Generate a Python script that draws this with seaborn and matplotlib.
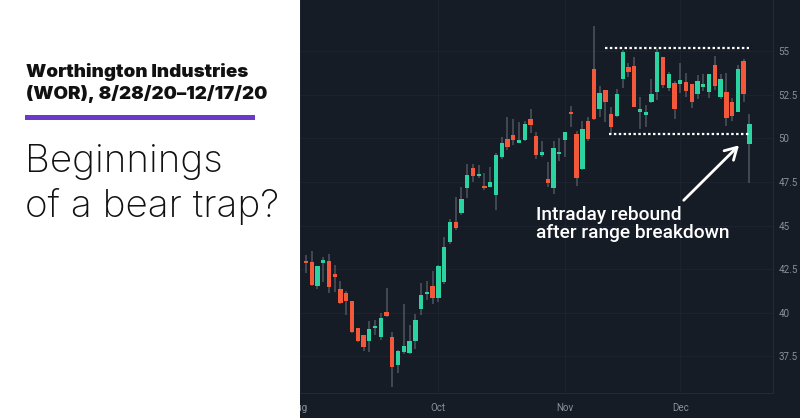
import numpy as np
import pandas as pd
import matplotlib
matplotlib.use("Agg")
import matplotlib.pyplot as plt
from matplotlib.patches import Rectangle
import seaborn as sns

# Daily OHLC for WOR (8/28/20 - 12/17/20)
opens = [42.95, 42.91, 41.54, 42.84, 42.99, 42.22, 41.38, 41.12, 40.68, 39.11,
         38.71, 38.40, 39.13, 38.60, 40.05, 38.60, 37.03, 37.77, 37.71, 38.37,
         40.22, 41.08, 41.54, 40.83, 41.77, 44.07, 45.19, 45.72, 47.17, 48.30,
         47.85, 47.27, 47.19, 46.75, 48.95, 49.94, 50.19, 49.75, 49.89, 51.09,
         50.13, 49.06, 47.65, 47.13, 49.08, 49.90, 51.52, 50.26, 48.26, 50.99,
         53.95, 51.70, 52.75, 51.38, 51.30, 53.40, 54.09, 54.14, 51.52, 51.35,
         52.08, 52.67, 54.64, 52.88, 53.15, 53.11, 53.23, 53.09, 52.56, 52.96,
         52.65, 54.22, 52.37, 52.65, 52.08, 51.52, 54.45, 49.66]
highs = [43.31, 43.54, 42.70, 43.18, 43.35, 42.74, 41.84, 41.25, 40.70, 39.15,
         38.75, 39.53, 39.59, 39.99, 41.44, 38.90, 37.85, 40.50, 39.30, 39.93,
         41.73, 41.84, 42.38, 42.76, 44.33, 45.38, 46.62, 47.23, 48.51, 48.51,
         48.45, 47.99, 48.34, 49.14, 50.06, 51.20, 51.11, 50.92, 50.97, 51.68,
         50.34, 49.85, 48.64, 49.85, 50.03, 50.36, 51.85, 50.40, 51.01, 51.20,
         56.44, 53.00, 52.75, 51.81, 52.81, 55.06, 54.30, 54.64, 52.37, 51.89,
         53.38, 55.10, 54.64, 53.82, 53.30, 54.30, 53.72, 53.09, 53.63, 53.68,
         53.70, 54.72, 53.67, 53.76, 52.29, 54.18, 54.56, 51.38]
lows = [42.30, 41.55, 41.38, 41.77, 41.15, 41.21, 40.50, 39.86, 38.83, 38.35,
        37.79, 37.77, 38.73, 38.44, 39.74, 35.77, 36.57, 37.63, 37.63, 37.94,
        39.87, 40.73, 40.50, 40.64, 41.63, 43.95, 44.76, 45.62, 46.60, 47.48,
        47.71, 47.04, 47.19, 45.89, 48.81, 49.33, 49.63, 49.73, 49.86, 50.32,
        48.81, 48.91, 47.19, 46.81, 48.72, 48.95, 50.63, 47.28, 48.20, 49.85,
        51.03, 51.22, 50.95, 50.29, 51.20, 52.90, 53.50, 51.78, 50.55, 50.66,
        52.01, 52.19, 52.87, 52.73, 51.13, 52.58, 52.38, 51.75, 52.24, 52.71,
        52.33, 52.77, 52.25, 50.72, 51.01, 51.50, 52.10, 47.46]
closes = [42.84, 41.58, 42.68, 43.01, 41.46, 42.05, 40.58, 40.69, 38.92, 38.40,
          38.02, 39.05, 39.26, 39.70, 39.80, 36.91, 37.81, 38.08, 38.38, 39.59,
          41.02, 41.21, 40.83, 42.67, 43.77, 45.19, 44.86, 46.52, 47.88, 47.86,
          47.96, 47.13, 47.51, 49.04, 49.75, 49.50, 49.90, 49.89, 50.82, 50.76,
          49.04, 49.21, 47.42, 49.44, 49.23, 50.36, 51.39, 47.71, 50.53, 49.94,
          51.09, 52.60, 52.08, 50.66, 52.54, 54.93, 53.78, 51.81, 51.66, 51.49,
          52.54, 54.93, 53.05, 53.67, 51.70, 53.32, 52.69, 52.08, 53.28, 53.09,
          53.70, 53.01, 53.42, 51.15, 51.30, 53.95, 52.52, 50.80]

# trading days (Labor Day and Thanksgiving closed)
holidays = ["2020-09-07", "2020-11-26"]
dates = pd.bdate_range("2020-08-28", "2020-12-17")
dates = dates[~dates.isin(pd.to_datetime(holidays))]

month_labels = ["Aug", "Oct", "Nov", "Dec"]
month_starts = ["2020-10-01", "2020-11-02", "2020-12-01"]
price_ticks = [37.5, 40, 42.5, 45, 47.5, 50, 52.5, 55]

# trading range drawn on the chart
range_top = 55.2
range_bottom = 50.27
annotation = "Intraday rebound\nafter range breakdown"

BG = "#151c26"
GREEN = "#2ad3a0"
RED = "#f4583a"
WICK = "#4f555e"
TICK = "#8b9098"

sns.set_theme(style="dark", rc={"axes.facecolor": BG, "figure.facecolor": BG})
plt.rcParams["font.family"] = ["Roboto", "DejaVu Sans"]

df = pd.DataFrame({"date": dates, "open": opens, "high": highs,
                   "low": lows, "close": closes})
df["idx"] = np.arange(len(df))
up = df["close"] >= df["open"]
body_lo = df[["open", "close"]].min(axis=1)
body_h = (df["close"] - df["open"]).abs().clip(lower=0.12)

fig = plt.figure(figsize=(8, 4.18), dpi=100)
ax = fig.add_axes([280 / 800, 25 / 418, 493 / 800, 393 / 418])

ax.vlines(df["idx"], df["low"], df["high"], color=WICK, lw=1.1, zorder=2)
ax.bar(df["idx"], body_h, bottom=body_lo, width=0.75,
       color=np.where(up, GREEN, RED), zorder=3, linewidth=0)

ax.set_xlim(-4.5, 81.1)
ax.set_ylim(35.4, 57.93)

# month ticks at first trading day; Aug label sits just off the left edge
pos = {d: i for i, d in enumerate(df["date"].dt.strftime("%Y-%m-%d"))}
xt = [-1.1] + [pos[m] for m in month_starts]
ax.set_xticks(xt)
ax.set_xticklabels(month_labels)
ax.set_yticks(price_ticks)
ax.set_yticklabels([f"{v:g}" for v in price_ticks])
ax.yaxis.tick_right()
ax.tick_params(axis="y", length=0, pad=4, labelsize=7, labelcolor=TICK)
ax.tick_params(axis="x", length=0, pad=7, labelsize=7, labelcolor=TICK)
ax.grid(True, color="#1c232e", lw=0.8)
for s in ["left", "top"]:
    ax.spines[s].set_visible(False)
for s in ["right", "bottom"]:
    ax.spines[s].set_color("#222a35")
    ax.spines[s].set_linewidth(0.8)

# range lines
ax.hlines(range_top, 52.0, 76.9, color="white", lw=1.6,
          linestyle=(0, (1.1, 1.1)), zorder=4)
ax.hlines(range_bottom, 52.7, 76.9, color="white", lw=1.6,
          linestyle=(0, (1.1, 1.1)), zorder=4)

ax.annotate("", xy=(75.2, 49.6), xytext=(65.6, 46.45),
            arrowprops=dict(arrowstyle="->,head_length=0.7,head_width=0.4",
                            color="white", lw=2, shrinkA=0, shrinkB=0))
ax.text(39.9, 46.12, annotation, color="white", fontsize=13.8,
        fontweight="medium", va="top", ha="left", linespacing=1.0, zorder=5)

# white title panel on the left
fig.add_artist(Rectangle((0, 0), 300 / 800, 1, transform=fig.transFigure,
                         facecolor="white", edgecolor="none", zorder=10))
title_font = ["Inter", "DejaVu Sans"]
fig.text(26 / 800, 1 - 77 / 418, "Worthington Industries", fontsize=13.5,
         family=title_font, fontweight="black", color="#111111",
         va="baseline", zorder=11)
fig.text(26 / 800, 1 - 99 / 418, "(WOR), 8/28/20\u201312/17/20", fontsize=13.5,
         family=title_font, fontweight="black", color="#111111",
         va="baseline", zorder=11)
fig.add_artist(Rectangle((25 / 800, 1 - 120 / 418), 230 / 800, 5 / 418,
                         transform=fig.transFigure, facecolor="#6a3bc8",
                         edgecolor="none", zorder=11))
fig.text(25 / 800, 1 - 172 / 418, "Beginnings", fontsize=27.8,
         family=title_font, fontweight="light", color="#111111",
         va="baseline", zorder=11)
fig.text(25 / 800, 1 - 217 / 418, "of a bear trap?", fontsize=27.8,
         family=title_font, fontweight="light", color="#111111",
         va="baseline", zorder=11)

fig.savefig("out.png", dpi=100, facecolor=BG)
